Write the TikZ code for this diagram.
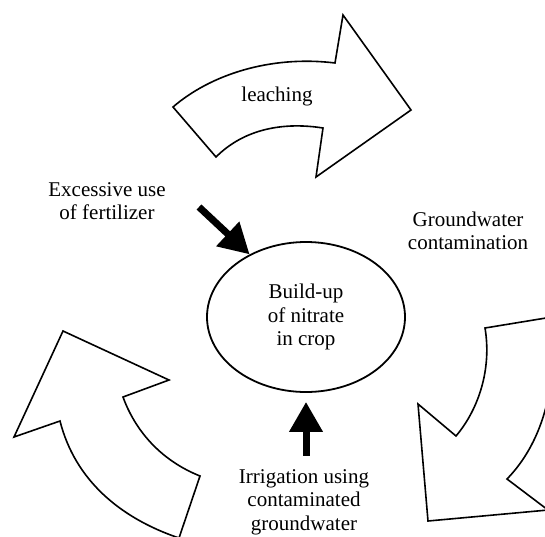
\documentclass[tikz,border=0pt]{standalone}
\usepackage{fontspec}
\setmainfont{Liberation Serif}
\usetikzlibrary{arrows.meta,shapes.geometric}
\newcommand*{\bigtxt}{\fontsize{21}{23.5}\selectfont}
\tikzset{
	blockarrow/.style={draw=black,line width=1.6pt,line join=miter,fill=white},
	pusharrow/.style={line width=7pt,-{Triangle[length=30pt,width=32pt]}},
	label txt/.style={align=center,font=\bigtxt}
}

\begin{document}
\begin{tikzpicture}[x=1pt,y=-1pt]
	\useasboundingbox (0,0) rectangle (545,536);
	\begin{scope}
	\clip (0,0) rectangle (545,536);
	\draw[blockarrow] (173,107) .. controls (210,75) and (270,55) .. (335,63) -- (343,15) -- (411,110)
	   -- (316,177) -- (323,128) .. controls (285,122) and (245,128) .. (216,157) -- cycle;
	\draw[blockarrow] (485,328) -- (552,317) .. controls (558,380) and (545,440) .. (507,479)
	   -- (548,510) -- (428,521) -- (418,404) -- (456,436) .. controls (478,410) and (492,370) .. (485,328) -- cycle;
	\draw[blockarrow] (63,331) -- (169,380) -- (123,397) .. controls (135,430) and (160,460) .. (200,476)
	   -- (179,538) .. controls (120,518) and (75,480) .. (60,421) -- (14,437) -- cycle;
	\end{scope}
	\node[label txt] (leach) at (277,96) {leaching};
	\node[draw,ellipse,line width=1.8pt,minimum width=198pt,minimum height=150pt] (crop) at (306,317) {};
	\node[label txt] (croptxt) at (crop) {Build-up\\of nitrate\\in crop};
	\node[label txt] (fert) at (107,201) {Excessive use\\of fertilizer};
	\node[label txt] (gw) at (468,231) {Groundwater\\contamination};
	\node[label txt] (irr) at (304,502) {Irrigation using\\contaminated\\groundwater};
	\coordinate (fertend) at (199,207);
	\draw[pusharrow] (fertend) -- (crop.132);
	\draw[pusharrow,shorten <=10pt,shorten >=9pt] (crop.south |- irr.north) -- (crop.south);
\end{tikzpicture}
\end{document}
